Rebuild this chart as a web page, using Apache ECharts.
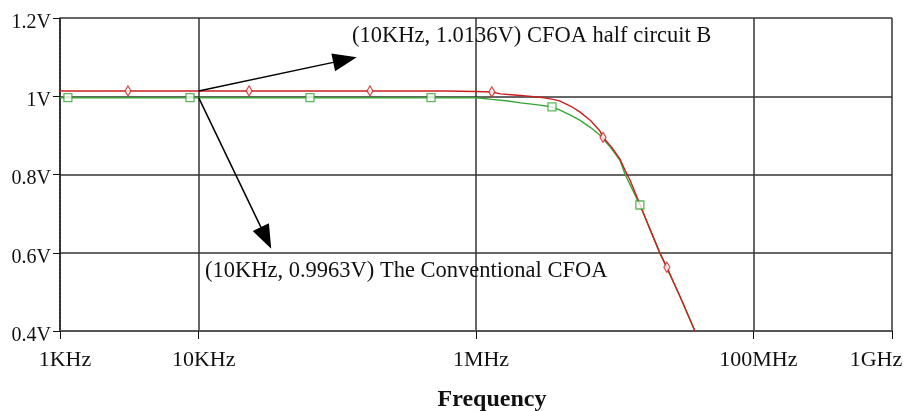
<!DOCTYPE html>
<html>
<head>
<meta charset="utf-8">
<script src="https://cdn.jsdelivr.net/npm/echarts@6/dist/echarts.min.js"></script>
<style>html,body{margin:0;padding:0;background:#fff}#c{width:919px;height:411px}</style>
</head>
<body>
<div id="c"></div>
<script>
// ---- data ----
const xTickValues = [1e3, 1e4, 1e6, 1e8, 1e9];
const xTickLabels = ['1KHz', '10KHz', '1MHz', '100MHz', '1GHz'];
const yTickValues = [0.4, 0.6, 0.8, 1.0, 1.2];
const yTickLabels = ['0.4V', '0.6V', '0.8V', '1V', '1.2V'];

const redFreq  = [1e3, 6e5, 1.0e6, 1.3e6, 1.5e6, 1.8e6, 2.1e6, 2.6e6, 3.1e6, 3.6e6, 4.0e6, 4.8e6, 5.6e6, 6.7e6, 7.8e6, 8.24e6, 9.5e6, 10.9e6, 11.9e6, 12.9e6, 14.5e6, 17.5e6, 21.2e6, 23.8e6, 29.6e6, 37.9e6];
const redVolt  = [1.0136, 1.0136, 1.012, 1.011, 1.006, 1.004, 1.002, 0.999, 0.996, 0.992, 0.988, 0.975, 0.960, 0.938, 0.912, 0.895, 0.870, 0.840, 0.810, 0.786, 0.742, 0.670, 0.599, 0.563, 0.488, 0.400];
const greenFreq = [1e3, 1.0e6, 1.3e6, 1.7e6, 2.1e6, 2.8e6, 3.5e6, 4.0e6, 4.8e6, 5.6e6, 6.7e6, 7.8e6, 9.3e6, 10.9e6, 11.9e6, 13.5e6, 15.2e6, 21.2e6, 29.6e6, 37.9e6];
const greenVolt = [0.9963, 0.9963, 0.992, 0.988, 0.983, 0.978, 0.973, 0.965, 0.952, 0.939, 0.920, 0.901, 0.870, 0.837, 0.800, 0.760, 0.722, 0.599, 0.488, 0.400];

const redMarkFreq = [3.09e3, 23.1e3, 172e3, 1.30e6, 8.24e6, 23.8e6];
const redMarkVolt = [1.0136, 1.0136, 1.0136, 1.011, 0.895, 0.563];
const greenMarkFreq = [1.14e3, 8.66e3, 63.5e3, 474e3, 3.53e6, 15.2e6];
const greenMarkVolt = [0.9963, 0.9963, 0.9963, 0.9963, 0.973, 0.722];

const arrowStartB = [1e4, 1.0136];
const arrowEndB = [113500, 1.093];
const arrowStartC = [1e4, 0.9963];
const arrowEndC = [30600, 0.638];

const labelB = '(10KHz, 1.0136V) CFOA half circuit B';
const labelC = '(10KHz, 0.9963V) The Conventional CFOA';
const xName = 'Frequency';

// ---- chart ----
const zip = (a, b) => a.map((v, i) => [v, b[i]]);
const FONT = '"Liberation Serif", "Times New Roman", serif';
const RED = '#cc1f1f', GREEN = '#35a535';

const chart = echarts.init(document.getElementById('c'), null, {renderer: 'canvas'});
chart.setOption({
  animation: false,
  backgroundColor: '#fff',
  grid: {left: 60, right: 27, top: 18, bottom: 80, containLabel: false, outerBoundsMode: 'none'},
  xAxis: {
    type: 'log', logBase: 10, min: 1e3, max: 1e9,
    axisLine: {show: true, lineStyle: {color: '#555', width: 2}},
    axisTick: {show: true, length: 8, inside: false, customValues: xTickValues, lineStyle: {color: '#111', width: 1}},
    axisLabel: {
      customValues: xTickValues, margin: 18, padding: [0, 0, 0, 10],
      fontFamily: FONT, fontSize: 22, color: '#111', hideOverlap: false,
      formatter: v => {
        const i = xTickValues.findIndex(t => Math.abs(Math.log10(t) - Math.log10(v)) < 1e-6);
        if (i < 0) return '';
        return i === xTickValues.length - 1 ? '{last|' + xTickLabels[i] + '}' : xTickLabels[i];
      },
      rich: {last: {fontFamily: FONT, fontSize: 22, color: '#111', padding: [0, 42, 0, 0]}}
    },
    splitLine: {show: true, lineStyle: {color: '#333', width: 1.5}},
    minorTick: {show: false}
  },
  yAxis: {
    type: 'value', min: 0.4, max: 1.2, interval: 0.2,
    axisLine: {show: true, lineStyle: {color: '#222', width: 1.5, type: [3, 1]}},
    axisTick: {show: true, length: 7, lineStyle: {color: '#111'}},
    axisLabel: {
      margin: 9, fontFamily: FONT, fontSize: 20, color: '#111',
      formatter: v => { const i = yTickValues.findIndex(t => Math.abs(t - v) < 1e-6); return i >= 0 ? '{v|' + yTickLabels[i] + '}' : ''; },
      rich: {v: {fontFamily: FONT, fontSize: 20, color: '#111', padding: [9, 0, 0, 0]}}
    },
    splitLine: {show: true, lineStyle: {color: '#333', width: 1.5}}
  },
  series: [
    {
      type: 'line', data: zip(redFreq, redVolt), showSymbol: false, smooth: false,
      lineStyle: {color: RED, width: 1.4}, z: 3, clip: true,
      markLine: {
        silent: true, symbol: ['none', 'triangle'], symbolSize: [18, 24], z: 5,
        label: {show: false},
        lineStyle: {color: '#000', width: 1.5, type: 'solid'},
        itemStyle: {color: '#000'},
        data: [
          [{coord: arrowStartB}, {coord: arrowEndB}],
          [{coord: arrowStartC}, {coord: arrowEndC}]
        ]
      }
    },
    {
      type: 'line', data: zip(greenFreq, greenVolt), showSymbol: false,
      lineStyle: {color: GREEN, width: 1.4}, z: 2, clip: true
    },
    {
      type: 'scatter', data: zip(redMarkFreq, redMarkVolt), symbol: 'diamond', symbolSize: [6, 10],
      itemStyle: {color: '#fff', borderColor: RED, borderWidth: 1.3}, z: 4
    },
    {
      type: 'scatter', data: zip(greenMarkFreq, greenMarkVolt), symbol: 'rect', symbolSize: 8,
      itemStyle: {color: '#fff', borderColor: GREEN, borderWidth: 1.3}, z: 4
    }
  ],
  graphic: [
    {type: 'text', left: 352, top: 25, z: 10, style: {text: labelB, fontFamily: FONT, fontSize: 22.5, fill: '#111'}},
    {type: 'text', left: 205, top: 260, z: 10, style: {text: labelC, fontFamily: FONT, fontSize: 22.5, fill: '#111'}},
    {type: 'text', z: 10, style: {x: 492, y: 400, text: xName, textAlign: 'center', textVerticalAlign: 'middle', fontFamily: FONT, fontSize: 24, fontWeight: 'bold', fill: '#111'}}
  ]
});
</script>
</body>
</html>
